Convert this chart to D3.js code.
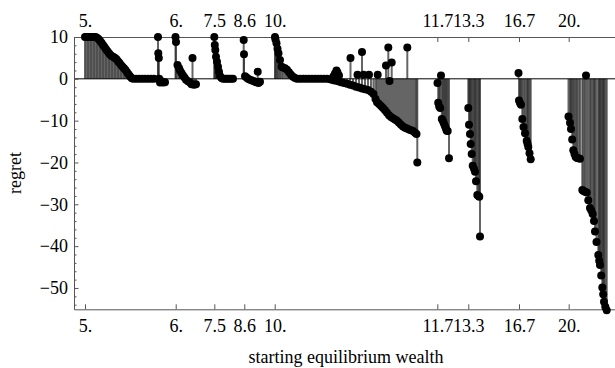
<!DOCTYPE html>
<html>
<head>
<meta charset="utf-8">
<script src="https://cdn.jsdelivr.net/npm/d3@7"></script>
<style>
  html, body { margin: 0; padding: 0; background: #fff; }
  svg { display: block; }
  text { font-family: "Liberation Serif", "Times New Roman", serif; }
</style>
</head>
<body>
<svg id="chart" width="615" height="368"></svg>
<script>
// ---- data (position index along the sorted sample, regret) ----
const tickLabels = ["5.", "6.", "7.5", "8.6", "10.", "11.7", "13.3", "16.7", "20."];
const tickPositions = [11, 101.7, 140.3, 170.3, 200.7, 363.3, 394.3, 445, 494.7];

const wealth5 = [[11,10],[12.5,10],[14,10],[15.5,10],[17,10],[18.5,10],[20,10],[21.5,10],[23,9.8],[24.5,9.5],[26,9.1],[27.5,8.6],[29,8.1],[30.5,7.6],[32,7.1],[33.5,6.6],[35,6.1],[36.5,5.7],[38,5.4],[39.5,5.2],[41,5.0],[42.5,4.7],[44,4.2],[45.5,3.8],[47,3.3],[48.5,2.9],[50,2.5],[51.5,2.1],[53,1.6],[54.5,1.1],[56,0.6],[57.5,0.2],[59,0],[62,0],[65,0],[68,0],[71,0],[74,0],[77,0],[80,0],[84,10],[84.3,6.1],[84.8,5.0],[85.2,0],[86,-0.9],[87.5,-0.6],[89,-0.9],[91,-0.8]];
const wealth6 = [[101.5,10],[102,8.8],[103.5,3.3],[105,2.6],[106,2.0],[107.5,1.4],[109,0.8],[110.5,0.3],[112,-0.2],[114,-0.6],[116,-0.9],[117.5,-1.3],[118.5,5.0],[120,-1.4],[122,-1.3]];
const wealth75 = [[140.3,10],[140.8,8.1],[141.3,6.9],[142,5.3],[143,4.1],[144,2.9],[145,1.7],[146,0.7],[147.5,0.2],[149,0],[151,0],[153,0],[155,0],[157,0],[159,0]];
const wealth86 = [[169.7,9.3],[170,5.9],[171,0.6],[172.5,0.3],[174,0],[176,-0.2],[178,-0.4],[180,-0.6],[182,-0.8],[183.7,1.7],[184.5,-1.0],[186,-0.7]];
const wealth10 = [[201,10],[201.5,9.4],[202.5,8.5],[203.5,7.2],[204.5,6.1],[206,4.5],[207.5,2.9],[209,2.7],[211,2.5],[213,2.2],[215,1.6],[217,1.0],[219,0.5],[221,0.2],[223,0],[226,0],[229,0],[232,0],[235,0],[238,0],[241,0],[244,0],[247,0],[250,0],[253,0],[256,-0.1],
  [259.5,0.6],[261,1.3],[262.5,2.0],[263.5,1.5],[265,0.8],
  [258,-0.2],[260.5,-0.4],[264,-0.6],[267,-0.8],[270,-1.0],[273,-1.2],[276,-1.4],[279,-1.6],[282,-1.9],[285,-2.1],[288,-2.3],[291,-2.5],[294,-2.7],[297,-3.1],[299.5,-3.6],[301.5,-4.8],[303,-5.6],[305,-6.0],[307,-6.5],[309,-7.0],[311,-7.5],[313,-8.1],[315,-8.7],[317,-9.1],[319,-9.4],[321,-9.7],[323,-10.0],[325,-10.5],[327,-11.0],[329,-11.4],[331,-11.7],[333,-11.9],[335,-12.1],[337,-12.3],[339,-12.5],[341,-12.9],[342.5,-13.2],[343.3,-20],
  [276.5,5.0],[283.5,1.0],[288,6.4],[289.5,1.0],[295,1.0],[303.7,1.0],[312,3.2],[314.3,7.5],[317.7,3.9],[315.5,-0.5],[333.3,7.5]];
const wealth117 = [[363.5,-1.0],[364.2,-5.7],[365.2,-6.6],[366.2,-7.0],[367,0.8],[367.8,-9.6],[368.8,-10.0],[369.8,-10.6],[370.8,-11.2],[371.8,-11.8],[372.7,-12.4],[373.7,-12.5],[375,-19]];
const wealth133 = [[394.3,-7],[395,-11],[396,-13.2],[396.7,-15.6],[397.7,-18],[398.7,-20.8],[400,-21.5],[401,-22.2],[402,-24.5],[403.3,-27.8],[404.5,-28],[405.3,-28.2],[406,-37.7]];
const wealth167 = [[444.5,1.4],[445,-5.2],[446,-5.8],[447,-6.2],[448.3,-9.6],[449.5,-11.5],[451,-13],[452.7,-14.8],[453.5,-15.5],[454.3,-16.3],[455.5,-17.8],[456.7,-19.2]];
const wealth20 = [[494.5,-9],[496,-10.5],[497,-12],[498.2,-14.5],[499.3,-17.1],[500.5,-18],[501.7,-18.7],[503,-18.9],[504.5,-19.0],[506,-19.1],[508.3,-26.6],[509.5,-26.8],[511,-27.0],[512,0.8],[512.7,-27.2],[514.3,-29],[516,-30.9],[517.3,-31.5],[518.7,-32.3],[520,-34],[521,-36.5],[522.5,-39],[524.3,-42.1],[525.2,-43.5],[526,-44.5],[527.2,-47],[528.3,-49.9],[529.2,-51.5],[530,-53.3],[531.3,-54.5],[532.7,-55.3]];

const yMajor = [10, 0, -10, -20, -30, -40, -50];
const yMinor = [8, 6, 4, 2, -2, -4, -6, -8, -12, -14, -16, -18, -22, -24, -26, -28, -32, -34, -36, -38, -42, -44, -46, -48, -52, -54];

// ---- layout ----
const svg = d3.select("#chart");
const mLeft = 74, mRight = 615, mTop = 37, mBottom = 309.3;

const x = d3.scaleLinear().domain([0, 541]).range([mLeft, mRight]);
const y = d3.scaleLinear().domain([-55.1, 10]).range([mBottom, mTop]);

const all = [].concat(wealth5, wealth6, wealth75, wealth86, wealth10, wealth117, wealth133, wealth167, wealth20);

// stems (filling to axis)
svg.append("g")
  .selectAll("line")
  .data(all)
  .join("line")
  .attr("x1", d => x(d[0])).attr("x2", d => x(d[0]))
  .attr("y1", y(0)).attr("y2", d => y(d[1]))
  .attr("stroke", "#2a2a2a")
  .attr("stroke-opacity", 0.72)
  .attr("stroke-width", 2);

// zero axis
svg.append("line")
  .attr("x1", mLeft).attr("x2", mRight)
  .attr("y1", y(0)).attr("y2", y(0))
  .attr("stroke", "#000").attr("stroke-width", 1);

const frameColor = "#555";
const fontSize = 18;

// y axis
svg.append("g").attr("transform", `translate(${mLeft},0)`)
  .call(d3.axisLeft(y).tickValues(yMajor).tickSize(-4.5).tickSizeOuter(0).tickPadding(6)
    .tickFormat(d3.format("d")));
svg.append("g").attr("transform", `translate(${mLeft},0)`)
  .call(d3.axisLeft(y).tickValues(yMinor).tickSize(-2.5).tickSizeOuter(0).tickFormat(""))
  .call(g => g.select(".domain").remove());

// bottom axis
svg.append("g").attr("transform", `translate(0,${mBottom})`)
  .call(d3.axisBottom(x).tickValues(tickPositions).tickSize(-5).tickSizeOuter(0).tickPadding(9.5)
    .tickFormat((d, i) => tickLabels[i]));
// top axis
svg.append("g").attr("transform", `translate(0,${mTop})`)
  .call(d3.axisTop(x).tickValues(tickPositions).tickSize(-5).tickSizeOuter(0).tickPadding(10.5)
    .tickFormat((d, i) => tickLabels[i]));

svg.selectAll(".domain").attr("stroke", frameColor).attr("stroke-width", 1);
svg.selectAll(".tick line").attr("stroke", frameColor).attr("stroke-width", 1);
svg.selectAll(".tick text")
  .attr("font-family", '"Liberation Serif", serif')
  .attr("font-size", fontSize)
  .attr("fill", "#000");

// points
svg.append("g")
  .selectAll("circle")
  .data(all)
  .join("circle")
  .attr("cx", d => x(d[0]))
  .attr("cy", d => y(d[1]))
  .attr("r", 4)
  .attr("fill", "#000");

// axis titles
svg.append("text")
  .attr("transform", `translate(21,173) rotate(-90)`)
  .attr("text-anchor", "middle")
  .attr("font-size", 18)
  .text("regret");

svg.append("text")
  .attr("x", 346).attr("y", 362.5)
  .attr("text-anchor", "middle")
  .attr("font-size", 18)
  .text("starting equilibrium wealth");
</script>
</body>
</html>
